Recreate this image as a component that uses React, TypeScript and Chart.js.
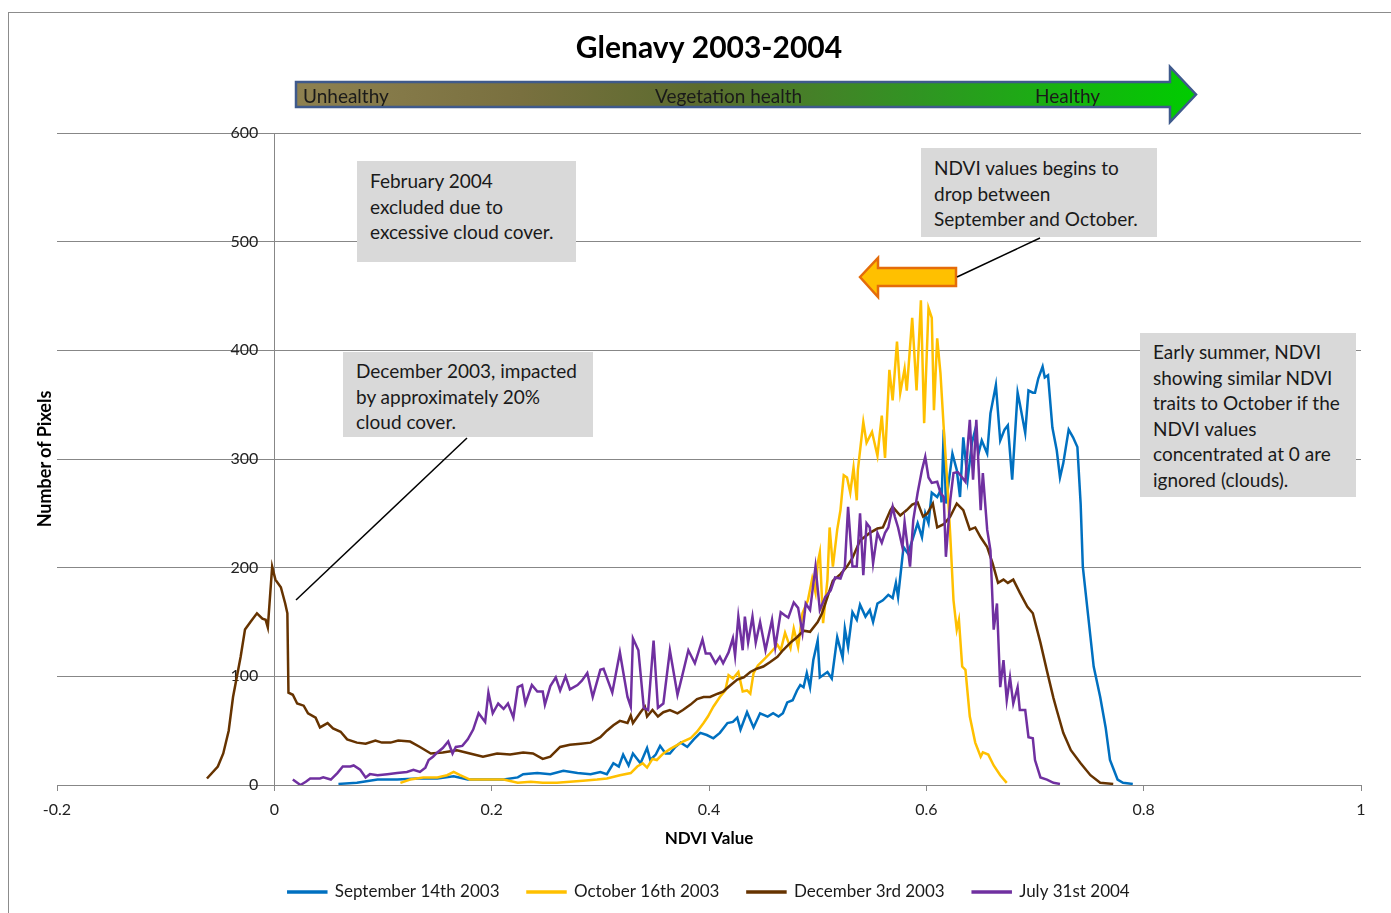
import React, { useEffect, useRef } from "react";
import { Chart, registerables } from "chart.js";

Chart.register(...registerables);

const FONT = "Lato, 'Open Sans', sans-serif";

const seriesNames = ["September 14th 2003", "October 16th 2003", "December 3rd 2003", "July 31st 2004"];
const seriesColors = ["#0070c0", "#ffc000", "#663300", "#7030a0"];
const xRange = [-0.2, 1];
const xStep = 0.2;
const yRange = [0, 600];
const yStep = 100;
const yLabelAt = -0.0147; // NDVI where the y-axis labels end (just left of the 0 line)

// [NDVI value, number of pixels]
const september: [number, number][] = [
  [0.059,1],[0.076,2],[0.095,5],[0.113,5],[0.132,6],[0.150,6],[0.165,8],[0.178,5],[0.192,5],[0.211,5],[0.224,7],[0.229,10],[0.242,11],[0.254,10],[0.266,13],[0.279,11],[0.291,10],[0.300,12],[0.306,10],[0.312,20],[0.317,17],[0.321,28],[0.326,18],[0.330,29],[0.337,20],[0.343,34],[0.346,23],[0.351,28],[0.355,36],[0.360,29],[0.364,29],[0.369,35],[0.374,39],[0.380,35],[0.386,42],[0.392,48],[0.398,46],[0.404,43],[0.410,48],[0.417,57],[0.422,58],[0.426,62],[0.429,51],[0.435,67],[0.441,53],[0.447,66],[0.454,63],[0.459,66],[0.464,63],[0.468,66],[0.472,76],[0.477,78],[0.481,87],[0.484,92],[0.487,90],[0.490,103],[0.493,90],[0.496,115],[0.500,133],[0.502,99],[0.509,104],[0.513,98],[0.518,136],[0.523,117],[0.525,144],[0.528,127],[0.532,159],[0.536,152],[0.539,166],[0.544,155],[0.548,161],[0.551,150],[0.555,167],[0.560,170],[0.565,175],[0.569,172],[0.572,186],[0.574,173],[0.579,219],[0.583,213],[0.587,225],[0.592,241],[0.596,228],[0.599,250],[0.602,241],[0.605,269],[0.610,265],[0.613,271],[0.614,260],[0.616,327],[0.618,259],[0.624,305],[0.628,290],[0.631,265],[0.634,320],[0.638,281],[0.642,315],[0.645,327],[0.648,305],[0.651,317],[0.656,305],[0.659,342],[0.664,368],[0.668,317],[0.672,327],[0.675,331],[0.679,281],[0.684,361],[0.686,351],[0.691,324],[0.694,363],[0.698,361],[0.700,361],[0.703,374],[0.707,385],[0.709,375],[0.712,377],[0.716,329],[0.720,308],[0.723,283],[0.726,296],[0.731,327],[0.735,320],[0.739,311],[0.742,259],[0.744,201],[0.749,155],[0.754,109],[0.760,81],[0.765,53],[0.769,23],[0.776,5],[0.781,2],[0.790,1]
];

const october: [number, number][] = [
  [0.116,2],[0.125,5],[0.137,7],[0.150,7],[0.159,9],[0.165,12],[0.171,9],[0.180,5],[0.190,5],[0.199,5],[0.211,5],[0.224,2],[0.236,3],[0.247,2],[0.260,2],[0.272,3],[0.284,4],[0.297,5],[0.306,6],[0.318,9],[0.328,11],[0.334,17],[0.339,20],[0.343,16],[0.348,24],[0.352,23],[0.358,29],[0.364,33],[0.371,37],[0.376,40],[0.383,43],[0.389,49],[0.395,57],[0.399,63],[0.404,72],[0.410,81],[0.415,87],[0.418,101],[0.422,98],[0.427,104],[0.431,86],[0.435,87],[0.438,84],[0.441,103],[0.445,110],[0.450,115],[0.456,121],[0.463,129],[0.466,124],[0.470,140],[0.475,126],[0.478,144],[0.482,127],[0.486,158],[0.491,170],[0.495,190],[0.498,177],[0.500,204],[0.502,214],[0.505,149],[0.509,189],[0.511,237],[0.514,201],[0.518,235],[0.521,253],[0.524,285],[0.527,283],[0.530,269],[0.533,292],[0.536,262],[0.537,290],[0.542,334],[0.545,315],[0.550,325],[0.555,303],[0.559,340],[0.562,301],[0.566,382],[0.569,354],[0.573,408],[0.576,361],[0.580,383],[0.582,363],[0.587,430],[0.591,363],[0.595,446],[0.598,333],[0.602,439],[0.605,430],[0.607,345],[0.610,411],[0.613,379],[0.616,329],[0.619,283],[0.622,230],[0.625,170],[0.628,143],[0.630,152],[0.633,109],[0.636,106],[0.640,63],[0.645,39],[0.650,26],[0.652,30],[0.657,28],[0.662,18],[0.668,9],[0.674,2]
];

const december: [number, number][] = [
  [-0.062,6],[-0.052,17],[-0.047,29],[-0.042,50],[-0.038,81],[-0.031,118],[-0.027,143],[-0.022,150],[-0.016,158],[-0.011,153],[-0.008,152],[-0.006,145],[-0.002,201],[0.001,189],[0.006,182],[0.010,167],[0.012,158],[0.013,85],[0.017,83],[0.021,75],[0.027,73],[0.031,66],[0.038,62],[0.042,53],[0.049,57],[0.054,52],[0.061,49],[0.067,42],[0.076,39],[0.084,38],[0.093,41],[0.099,39],[0.107,39],[0.114,41],[0.125,40],[0.134,35],[0.144,29],[0.155,30],[0.168,32],[0.180,29],[0.192,26],[0.205,29],[0.217,28],[0.229,30],[0.238,29],[0.247,24],[0.254,26],[0.263,35],[0.272,37],[0.282,38],[0.291,39],[0.300,44],[0.306,50],[0.312,55],[0.318,59],[0.325,57],[0.328,64],[0.330,57],[0.337,67],[0.341,72],[0.343,63],[0.348,69],[0.353,63],[0.358,67],[0.364,69],[0.371,66],[0.376,69],[0.383,74],[0.389,79],[0.395,81],[0.401,81],[0.408,84],[0.413,86],[0.420,92],[0.426,97],[0.432,99],[0.438,104],[0.444,107],[0.450,109],[0.456,113],[0.463,118],[0.468,124],[0.475,131],[0.481,136],[0.487,142],[0.493,141],[0.500,150],[0.504,158],[0.509,173],[0.514,188],[0.521,194],[0.527,201],[0.532,209],[0.539,225],[0.548,232],[0.555,236],[0.560,237],[0.567,253],[0.569,256],[0.576,248],[0.582,253],[0.587,258],[0.592,260],[0.597,247],[0.601,250],[0.606,259],[0.610,237],[0.616,240],[0.622,247],[0.628,259],[0.634,253],[0.640,235],[0.645,237],[0.650,228],[0.656,219],[0.661,204],[0.666,186],[0.671,189],[0.675,186],[0.680,189],[0.686,177],[0.693,164],[0.698,158],[0.705,131],[0.711,105],[0.717,80],[0.720,69],[0.726,48],[0.733,32],[0.742,20],[0.751,9],[0.760,2],[0.772,1]
];

const july: [number, number][] = [
  [0.017,5],[0.024,0],[0.029,3],[0.033,6],[0.042,6],[0.045,7],[0.052,5],[0.058,11],[0.063,17],[0.070,17],[0.073,18],[0.079,14],[0.084,7],[0.088,10],[0.095,9],[0.104,10],[0.113,11],[0.122,12],[0.128,14],[0.134,12],[0.139,16],[0.142,23],[0.146,26],[0.150,30],[0.155,34],[0.160,40],[0.164,29],[0.167,35],[0.173,36],[0.178,42],[0.183,51],[0.188,66],[0.194,58],[0.197,85],[0.201,66],[0.206,75],[0.211,70],[0.215,75],[0.220,62],[0.224,90],[0.228,92],[0.231,75],[0.237,92],[0.242,86],[0.247,86],[0.249,74],[0.254,91],[0.259,99],[0.263,87],[0.268,100],[0.272,88],[0.279,92],[0.283,96],[0.288,103],[0.293,81],[0.300,106],[0.303,107],[0.311,85],[0.318,122],[0.325,81],[0.328,72],[0.330,135],[0.335,124],[0.340,71],[0.344,69],[0.349,133],[0.353,71],[0.358,75],[0.364,124],[0.371,83],[0.375,99],[0.381,124],[0.387,112],[0.394,134],[0.397,121],[0.401,121],[0.406,112],[0.410,118],[0.413,112],[0.418,122],[0.422,135],[0.424,119],[0.427,155],[0.431,124],[0.433,155],[0.436,131],[0.440,155],[0.443,131],[0.447,150],[0.452,124],[0.458,152],[0.461,127],[0.466,159],[0.470,156],[0.473,154],[0.478,168],[0.482,163],[0.486,140],[0.489,167],[0.493,161],[0.498,201],[0.502,161],[0.507,173],[0.512,179],[0.516,191],[0.521,190],[0.525,201],[0.528,256],[0.532,201],[0.536,201],[0.539,250],[0.542,193],[0.545,241],[0.548,237],[0.551,204],[0.555,232],[0.559,223],[0.562,232],[0.565,237],[0.569,256],[0.571,247],[0.574,237],[0.578,219],[0.580,242],[0.585,201],[0.588,244],[0.592,269],[0.596,290],[0.599,302],[0.602,283],[0.605,278],[0.610,279],[0.613,269],[0.616,265],[0.618,210],[0.622,262],[0.625,287],[0.629,288],[0.633,283],[0.636,279],[0.638,311],[0.640,336],[0.643,281],[0.646,336],[0.650,253],[0.652,287],[0.656,235],[0.659,216],[0.662,143],[0.665,167],[0.668,90],[0.671,115],[0.674,78],[0.677,99],[0.680,75],[0.684,90],[0.686,69],[0.691,69],[0.694,44],[0.698,43],[0.700,23],[0.705,7],[0.711,5],[0.717,2],[0.723,1]
];

const seriesData = [september, october, december, july];

const annotations = [
  { left: 357, top: 161, width: 219, height: 101, padTop: 7, lines: ["February 2004", "excluded due to", "excessive cloud cover."] },
  { left: 343, top: 352, width: 250, height: 85, padTop: 6, lines: ["December 2003, impacted", "by approximately 20%", "cloud cover."] },
  { left: 921, top: 148, width: 236, height: 89, padTop: 7, lines: ["NDVI values begins to", "drop between", "September and October."] },
  { left: 1140, top: 333, width: 216, height: 164, padTop: 6, lines: ["Early summer, NDVI", "showing similar NDVI", "traits to October if the", "NDVI values", "concentrated at 0 are", "ignored (clouds)."] },
];

export default function App() {
  const ref = useRef<HTMLCanvasElement>(null);

  useEffect(() => {
    const canvas = ref.current;
    if (!canvas) return;
    const grid = "#878787";
    const chart = new Chart(canvas, {
      type: "line",
      data: {
        datasets: seriesData.map((s, i) => ({
          label: seriesNames[i],
          data: s.map(([x, y]) => ({ x, y })),
          borderColor: seriesColors[i],
          backgroundColor: seriesColors[i],
          borderWidth: 2.5,
          pointRadius: 0,
          pointHoverRadius: 0,
          tension: 0,
          fill: false,
          order: seriesData.length - i,
        })),
      },
      options: {
        responsive: false,
        animation: false,
        events: [],
        layout: { padding: { left: 57, right: 30, top: 0, bottom: 2.5 } },
        plugins: {
          title: {
            display: true,
            text: "Glenavy 2003-2004",
            color: "#000",
            font: { family: FONT, size: 30, weight: "bold" },
            padding: { top: 30, bottom: 67 },
          },
          legend: {
            position: "bottom",
            labels: {
              boxWidth: 38,
              boxHeight: 1,
              padding: 28,
              color: "#1a1a1a",
              font: { family: FONT, size: 17 },
              sort: (a: any, b: any) => a.datasetIndex - b.datasetIndex,
            },
          },
          tooltip: { enabled: false },
        },
        scales: {
          x: {
            type: "linear",
            min: xRange[0],
            max: xRange[1],
            ticks: {
              stepSize: xStep,
              padding: 9,
              color: "#222",
              font: { family: FONT, size: 16 },
              callback: (v: any) => String(Math.round(Number(v) * 10) / 10),
            },
            grid: {
              drawOnChartArea: true,
              drawTicks: true,
              tickLength: 6,
              color: (c: any) => (c.tick && Math.abs(c.tick.value) < 1e-9 ? grid : "rgba(0,0,0,0)"),
              tickColor: grid,
            },
            border: { color: grid },
            title: {
              display: true,
              text: "NDVI Value",
              color: "#000",
              font: { family: FONT, size: 17, weight: "bold" },
              padding: { top: 0, bottom: 6.9 },
            },
          },
          y: {
            type: "linear",
            position: { x: yLabelAt } as any,
            min: yRange[0],
            max: yRange[1],
            ticks: {
              stepSize: yStep,
              color: "#222",
              font: { family: FONT, size: 16 },
            },
            grid: { color: grid, drawTicks: false },
            border: { display: false },
          },
        },
      },
    } as any);
    return () => chart.destroy();
  }, []);

  const armText = { position: "absolute" as const, top: 94.5, transform: "translateY(-50%)", fontSize: 19, color: "#1a1a1a", whiteSpace: "nowrap" as const };

  return (
    <div style={{ position: "absolute", left: 0, top: 0, width: 1391, height: 913, overflow: "hidden", background: "#fff", fontFamily: FONT }}>
      <div style={{ position: "absolute", left: 8, top: 12, width: 1430, height: 960, border: "1px solid #8c8c8c", boxSizing: "border-box" }} />
      <canvas ref={ref} width={1391} height={913} style={{ position: "absolute", left: 0, top: 0 }} />
      <svg width={1391} height={913} style={{ position: "absolute", left: 0, top: 0, pointerEvents: "none" }}>
        <defs>
          <linearGradient id="health" gradientUnits="userSpaceOnUse" x1="296" y1="0" x2="1196" y2="0">
            <stop offset="0" stopColor="#8e8150" />
            <stop offset="0.25" stopColor="#79703f" />
            <stop offset="0.45" stopColor="#5b6b2e" />
            <stop offset="0.7" stopColor="#2f9622" />
            <stop offset="1" stopColor="#00cc00" />
          </linearGradient>
        </defs>
        <polygon points="296,82 1170,82 1170,67 1196,94.5 1170,122 1170,107 296,107" fill="url(#health)" stroke="#3f5a8c" strokeWidth={2.5} strokeLinejoin="miter" />
        <polygon points="860,277 878,258 878,268 956,268 956,286 878,286 878,297" fill="#ffc000" stroke="#e46c0a" strokeWidth={2.5} />
        <line x1={467} y1={438} x2={296} y2={600} stroke="#000" strokeWidth={1.5} />
        <line x1={1040} y1={238} x2={957} y2={277} stroke="#000" strokeWidth={1.5} />
      </svg>
      <span style={{ ...armText, left: 303 }}>Unhealthy</span>
      <span style={{ ...armText, left: 655 }}>Vegetation health</span>
      <span style={{ ...armText, left: 1035 }}>Healthy</span>
      {annotations.map((a, i) => (
        <div key={i} style={{ position: "absolute", left: a.left, top: a.top, width: a.width, height: a.height, background: "#d9d9d9", boxSizing: "border-box", paddingLeft: 13, paddingTop: a.padTop, fontSize: 19, lineHeight: "25.5px", color: "#1a1a1a", whiteSpace: "nowrap" }}>
          {a.lines.map((l, j) => (<div key={j}>{l}</div>))}
        </div>
      ))}
      <div style={{ position: "absolute", left: 44, top: 459, transform: "translate(-50%, -50%) rotate(-90deg)", fontSize: 18, fontWeight: "bold", color: "#000", whiteSpace: "nowrap" }}>Number of Pixels</div>
    </div>
  );
}
